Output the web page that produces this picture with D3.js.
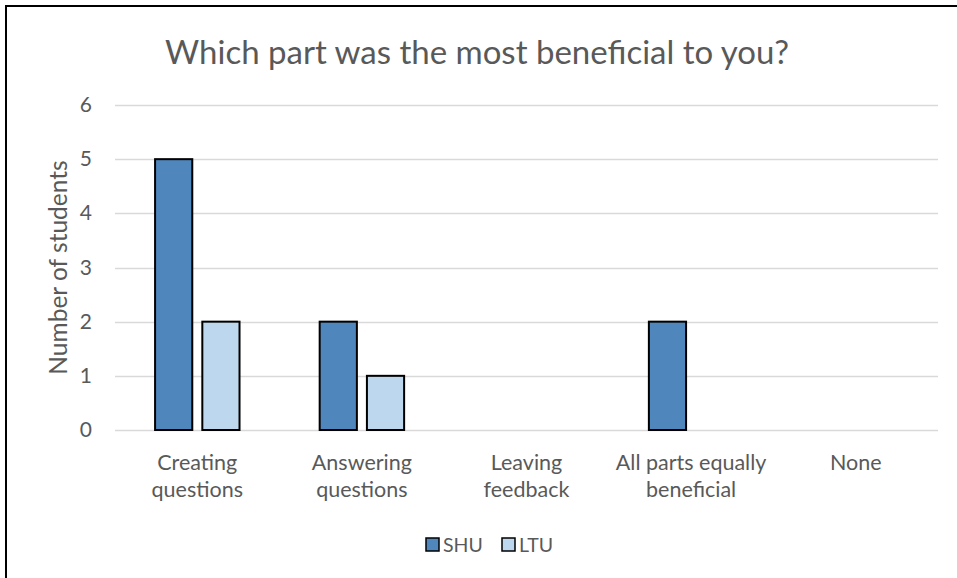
<!DOCTYPE html>
<html>
<head>
<meta charset="utf-8">
<script src="https://cdnjs.cloudflare.com/ajax/libs/d3/7.8.5/d3.min.js"></script>
<style>
  body { margin: 0; background: #fff; }
  text { font-family: Lato, "Open Sans", sans-serif; fill: #595959; }
</style>
</head>
<body>
<div id="chart"></div>
<script>
// data
var categories = [["Creating", "questions"], ["Answering", "questions"], ["Leaving", "feedback"],
    ["All parts equally", "beneficial"], ["None"]]
var series_names = ["SHU", "LTU"]
var shu_values = [5, 2, 0, 2, 0]
var ltu_values = [2, 1, 0, 0, 0]
var y_ticks = [0, 1, 2, 3, 4, 5, 6]
var colors = ["#4f87bd", "#bdd7ee"]

var width = 957, height = 578
var plot = { left: 115, right: 938, top: 105, bottom: 430 }

var svg = d3.select("#chart").append("svg")
    .attr("width", width)
    .attr("height", height)

// frame (only top and left edges show in the reference)
svg.append("line").attr("x1", 5).attr("x2", width).attr("y1", 6).attr("y2", 6)
    .attr("stroke", "#000").attr("stroke-width", 2)
svg.append("line").attr("x1", 6).attr("x2", 6).attr("y1", 5).attr("y2", height)
    .attr("stroke", "#000").attr("stroke-width", 2)

var x_scale = d3.scaleBand()
    .domain(d3.range(categories.length))
    .range([plot.left, plot.right])
var y_scale = d3.scaleLinear()
    .domain([0, 6])
    .range([plot.bottom, plot.top])

var bar_w = x_scale.bandwidth() * 0.226
var bar_gap = bar_w * 0.27
var x_inner = d3.scaleOrdinal()
    .domain([0, 1])
    .range([-bar_w - bar_gap / 2, bar_gap / 2])

// gridlines
svg.selectAll(".grid").data(y_ticks)
    .enter().append("line")
    .attr("x1", plot.left).attr("x2", plot.right)
    .attr("y1", function (d) { return Math.round(y_scale(d)) + 0.5 })
    .attr("y2", function (d) { return Math.round(y_scale(d)) + 0.5 })
    .attr("stroke", "#d9d9d9").attr("stroke-width", 1.3)

// y tick labels
svg.selectAll(".ytick").data(y_ticks)
    .enter().append("text")
    .attr("x", 92)
    .attr("y", function (d) { return y_scale(d) + 7 })
    .attr("text-anchor", "end")
    .attr("font-size", 21)
    .text(function (d) { return d })

// bars
var all_series = [shu_values, ltu_values]
all_series.forEach(function (vals, s) {
    var g = svg.append("g")
    vals.forEach(function (v, i) {
        if (v <= 0) return
        g.append("rect")
            .attr("x", x_scale(i) + x_scale.bandwidth() / 2 + x_inner(s))
            .attr("y", y_scale(v))
            .attr("width", bar_w)
            .attr("height", y_scale(0) - y_scale(v))
            .attr("fill", colors[s])
            .attr("stroke", "#000")
            .attr("stroke-width", 2)
    })
})

// category labels
categories.forEach(function (lines, i) {
    var t = svg.append("text")
        .attr("x", x_scale(i) + x_scale.bandwidth() / 2)
        .attr("y", 470)
        .attr("text-anchor", "middle")
        .attr("font-size", 21.5)
    lines.forEach(function (ln, j) {
        t.append("tspan")
            .attr("x", x_scale(i) + x_scale.bandwidth() / 2)
            .attr("dy", j == 0 ? 0 : 27)
            .text(ln)
    })
})

// title
svg.append("text")
    .attr("x", 477)
    .attr("y", 64)
    .attr("text-anchor", "middle")
    .attr("font-size", 33)
    .text("Which part was the most beneficial to you?")

// y axis title
svg.append("text")
    .attr("transform", "translate(67," + ((plot.top + plot.bottom) / 2) + ") rotate(-90)")
    .attr("text-anchor", "middle")
    .attr("font-size", 24.5)
    .text("Number of students")

// legend
var legend_x = [426, 502]
series_names.forEach(function (name, s) {
    svg.append("rect")
        .attr("x", legend_x[s]).attr("y", 538)
        .attr("width", 13).attr("height", 13)
        .attr("fill", colors[s])
        .attr("stroke", "#000").attr("stroke-width", 1.5)
    svg.append("text")
        .attr("x", legend_x[s] + 17).attr("y", 552)
        .attr("font-size", 19.5)
        .text(name)
})
</script>
</body>
</html>
